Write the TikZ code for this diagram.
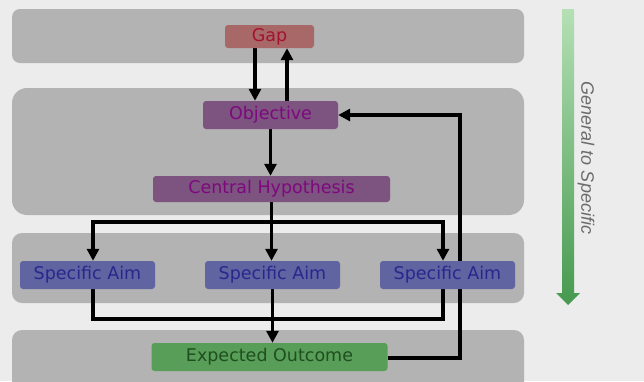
\documentclass[tikz,border=0pt]{standalone}
\usepackage{fontspec}
\setmainfont{DejaVu Sans}
\newfontfamily\labelfont{Liberation Sans}
\usetikzlibrary{arrows.meta}
\pgfdeclarelayer{bands}
\pgfdeclarelayer{links}
\pgfsetlayers{bands,links,main}
\definecolor{bgcol}{HTML}{ECECEC}
\definecolor{bandcol}{HTML}{B3B3B3}
\definecolor{gapfill}{HTML}{A86868}
\definecolor{gaptext}{HTML}{A3122E}
\definecolor{objfill}{HTML}{7D5380}
\definecolor{objtext}{HTML}{7E087E}
\definecolor{aimfill}{HTML}{6064A0}
\definecolor{aimtext}{HTML}{26288C}
\definecolor{outfill}{HTML}{589D58}
\definecolor{outtext}{HTML}{1F4F1F}
\definecolor{greenlight}{HTML}{B5E0B5}
\definecolor{greendark}{HTML}{46994F}
\tikzset{
  band/.style={fill=bandcol, draw=none},
  box/.style={rectangle, rounded corners=3pt, draw=none, inner sep=0pt,
    font=\fontsize{17.5}{20}\selectfont},
  gapbox/.style={box, fill=gapfill, text=gaptext},
  objbox/.style={box, fill=objfill, text=objtext},
  aimbox/.style={box, fill=aimfill, text=aimtext, minimum width=135pt, minimum height=28pt},
  outbox/.style={box, fill=outfill, text=outtext},
  link/.style={line width=3.4pt, draw=black},
  arr/.style={link, -{Triangle[width=12pt,length=12pt]}},
}
\begin{document}
\begin{tikzpicture}[x=1pt,y=-1pt]
  \useasboundingbox (0,0) rectangle (644,381);

  \begin{pgfonlayer}{bands}
    \fill[bgcol] (0,0) rectangle (644,381);
    \begin{scope}
      \clip (0,0) rectangle (644,381);
      % one band per level
      \fill[band, rounded corners=8pt] (12,9) rectangle (524,63);
      \fill[band, rounded corners=15pt] (12,88) rectangle (524,215);
      \fill[band, rounded corners=10pt] (12,233) rectangle (524,303);
      \fill[band, rounded corners=10pt] (12,330) rectangle (524,395);
    \end{scope}
  \end{pgfonlayer}

  % gradient arrow with its caption
  \shade[top color=greenlight, bottom color=greendark]
    (562,9) -- (574,9) -- (574,293) -- (580,293) -- (568,305) -- (556,293) -- (562,293) -- cycle;
  \node[rotate=-90, text=black!58, font=\labelfont\itshape\fontsize{18}{21}\selectfont]
    (dir) at (586,158) {General to Specific};

  % boxes
  \node[gapbox, minimum width=89pt, minimum height=23pt] (gap) at (269.5,36.5) {Gap};
  \node[objbox, minimum width=135pt, minimum height=28pt] (obj) at (270.5,115) {Objective};
  \node[objbox, minimum width=237pt, minimum height=26pt] (ch) at (271.5,189) {Central Hypothesis};
  \node[aimbox] (sa1) at (87.5,275) {Specific Aim};
  \node[aimbox] (sa2) at (272.5,275) {Specific Aim};
  \node[aimbox] (sa3) at (447.5,275) {Specific Aim};
  \node[outbox, minimum width=236pt, minimum height=28pt] (eo) at (269.5,357) {Expected Outcome};

  % connectors, kept under the boxes
  \coordinate (bl) at (93,222);
  \coordinate (br) at (443,222);
  \coordinate (cl) at (93,319);
  \coordinate (cr) at (443,319);
  \coordinate (fb) at (460,358);

  \begin{pgfonlayer}{links}
    \draw[arr] ([xshift=-14.5pt]gap.south) -- ([xshift=-14.5pt]gap.south |- obj.north);
    \draw[arr] ([xshift=16.5pt]obj.north) -- ([xshift=16.5pt]obj.north |- gap.south);
    \draw[arr] (obj.south) -- (obj.south |- ch.north);
    \draw[arr] (ch.south) -- (ch.south |- sa2.north);
    \draw[arr] (bl) -- (bl |- sa1.north);
    \draw[link] ([xshift=-1.7pt]bl) -- ([xshift=1.7pt]br);
    \draw[arr] (br) -- (br |- sa3.north);
    \draw[link] (cl |- sa1.south) -- (cl) -- (cr) -- (cr |- sa3.south);
    \draw[arr] (sa2.south) -- (sa2.south |- eo.north);
    \draw[arr] (eo.east |- fb) -- (fb) -- (fb |- obj.east) -- (obj.east);
  \end{pgfonlayer}
\end{tikzpicture}
\end{document}
